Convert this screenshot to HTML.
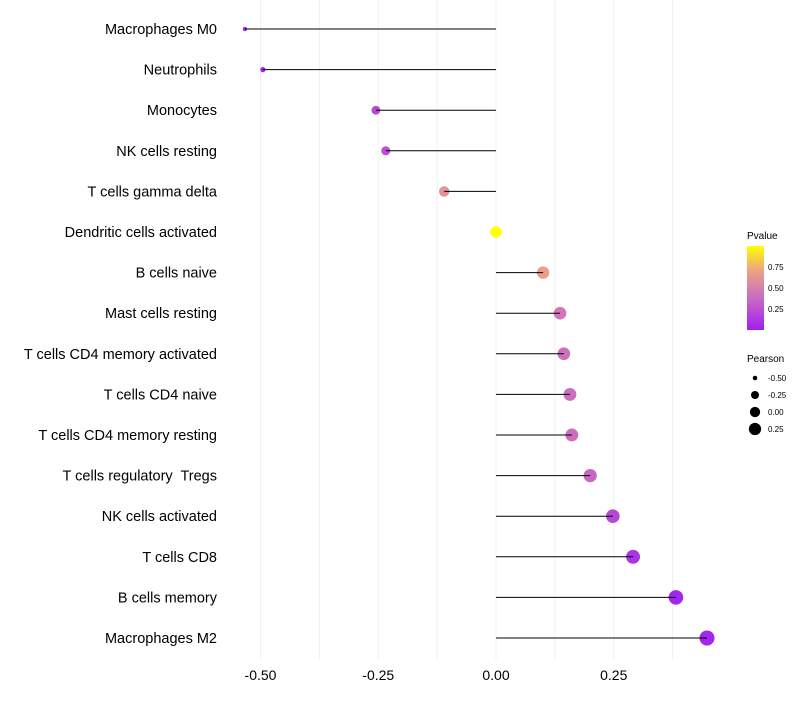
<!DOCTYPE html>
<html><head><meta charset="utf-8"><style>
body{margin:0;background:#fff;font-family:"Liberation Sans",sans-serif}
text{white-space:pre}
</style></head><body>
<svg id="chart" width="800" height="700" xmlns="http://www.w3.org/2000/svg"></svg>
<script>
const categories=["Macrophages M0","Neutrophils","Monocytes","NK cells resting","T cells gamma delta","Dendritic cells activated","B cells naive","Mast cells resting","T cells CD4 memory activated","T cells CD4 naive","T cells CD4 memory resting","T cells regulatory  Tregs","NK cells activated","T cells CD8","B cells memory","Macrophages M2"];
const pearson=[-0.533,-0.495,-0.255,-0.234,-0.110,0.0,0.100,0.136,0.144,0.157,0.161,0.200,0.248,0.291,0.382,0.448];
const pvalues=[0.01,0.02,0.22,0.25,0.62,1.0,0.68,0.45,0.42,0.40,0.40,0.36,0.2,0.1,0.03,0.04];
const xTicks=[-0.5,-0.25,0,0.25];
const xTickLabels=["-0.50","-0.25","0.00","0.25"];
const pTicks=[0.25,0.5,0.75];
const sizeTicks=[-0.5,-0.25,0,0.25];

const svg=document.getElementById('chart');
const NS="http://www.w3.org/2000/svg";
const x=v=>496+v*471;
const y=i=>29+i*40.6;
const r=v=>Math.sqrt(Math.max(1,33+53*v));
const stops=[[0,[160,32,240]],[0.4,[204,110,192]],[0.7,[236,160,136]],[1,[255,255,0]]];
function col(p){for(let k=1;k<stops.length;k++){if(p<=stops[k][0]){const a=stops[k-1],b=stops[k],t=(p-a[0])/(b[0]-a[0]);const c=a[1].map((v,j)=>Math.round(v+(b[1][j]-v)*t));return `rgb(${c})`;}}return 'rgb(255,255,0)';}
function mk(tag,attrs,txt){const e=document.createElementNS(NS,tag);for(const k in attrs)e.setAttribute(k,attrs[k]);if(txt!==undefined)e.textContent=txt;svg.appendChild(e);return e;}

for(let v=-0.5;v<=0.375;v+=0.125){const g=mk('line',{x1:x(v),x2:x(v),y1:0,y2:660,stroke:'#f0f0f0','stroke-width':1});

}
xTicks.forEach((v,i)=>{const t=mk('text',{x:x(v),y:680,'text-anchor':'middle','font-size':14,fill:'#000'},xTickLabels[i]);

});
categories.forEach((c,i)=>{
const t=mk('text',{x:217,y:y(i)+5,'text-anchor':'end','font-size':14.5,fill:'#000'},c);


const d=mk('circle',{cx:x(pearson[i]),cy:y(i),r:r(pearson[i]),fill:col(pvalues[i])});


const l=mk('line',{x1:x(0),x2:x(pearson[i]),y1:y(i),y2:y(i),stroke:'#000','stroke-width':1});


});
const lt=mk('text',{x:747,y:239,'font-size':10,fill:'#000'},'Pvalue');


const defs=mk('defs',{});
const lg=document.createElementNS(NS,'linearGradient');lg.setAttribute('id','pg');lg.setAttribute('x1',0);lg.setAttribute('x2',0);lg.setAttribute('y1',1);lg.setAttribute('y2',0);
stops.forEach(s=>{const st=document.createElementNS(NS,'stop');st.setAttribute('offset',s[0]);st.setAttribute('stop-color',`rgb(${s[1]})`);lg.appendChild(st);});
defs.appendChild(lg);
const bar=mk('rect',{x:747,y:246,width:17,height:84,fill:'url(#pg)'});


pTicks.forEach(p=>{const py=330-p*84;
const tl=mk('text',{x:768,y:py+3,'font-size':8,fill:'#000'},p.toFixed(2));

});
const st=mk('text',{x:747,y:362,'font-size':10,fill:'#000'},'Pearson');


sizeTicks.forEach((v,i)=>{const cy=378+i*17;
const c=mk('circle',{cx:755,cy:cy,r:r(v)*0.9,fill:'#000'});


const tl=mk('text',{x:768,y:cy+3,'font-size':8,fill:'#000'},v.toFixed(2));

});
</script>
</body></html>
